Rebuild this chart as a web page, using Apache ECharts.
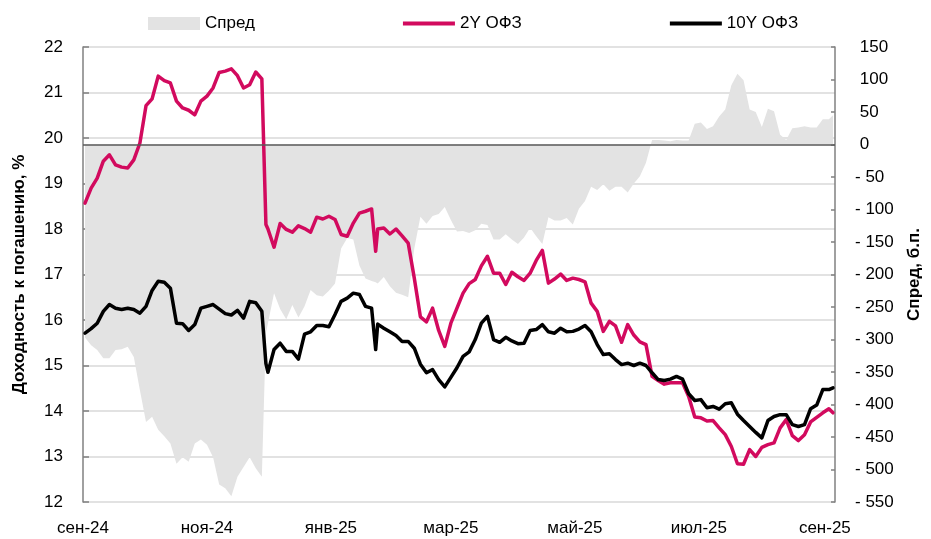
<!DOCTYPE html>
<html>
<head>
<meta charset="utf-8">
<script src="https://cdn.jsdelivr.net/npm/echarts@6/dist/echarts.min.js"></script>
<style>
html,body{margin:0;padding:0;background:#fff;}
#chart{width:931px;height:539px;}
</style>
</head>
<body>
<div id="chart"></div>
<script>
// ---- data ----
const dates = [
'2024-09-02','2024-09-05','2024-09-08','2024-09-11','2024-09-14','2024-09-17','2024-09-20','2024-09-23','2024-09-26','2024-09-29',
'2024-10-02','2024-10-05','2024-10-08','2024-10-11','2024-10-14','2024-10-17','2024-10-20','2024-10-23','2024-10-26','2024-10-29',
'2024-11-01','2024-11-04','2024-11-07','2024-11-10','2024-11-13','2024-11-16','2024-11-19','2024-11-22','2024-11-25','2024-11-28','2024-11-30',
'2024-12-01','2024-12-04','2024-12-07','2024-12-10','2024-12-13','2024-12-16','2024-12-19','2024-12-22','2024-12-25','2024-12-28','2024-12-31',
'2025-01-03','2025-01-06','2025-01-09','2025-01-12','2025-01-15','2025-01-18','2025-01-21','2025-01-23','2025-01-24','2025-01-27','2025-01-30',
'2025-02-02','2025-02-05','2025-02-08','2025-02-11','2025-02-14','2025-02-17','2025-02-20','2025-02-23','2025-02-26',
'2025-03-01','2025-03-04','2025-03-07','2025-03-10','2025-03-13','2025-03-16','2025-03-19','2025-03-22','2025-03-25','2025-03-28','2025-03-31',
'2025-04-03','2025-04-06','2025-04-09','2025-04-12','2025-04-15','2025-04-18','2025-04-21','2025-04-24','2025-04-27','2025-04-30',
'2025-05-03','2025-05-06','2025-05-09','2025-05-12','2025-05-15','2025-05-18','2025-05-21','2025-05-24','2025-05-27','2025-05-30',
'2025-06-02','2025-06-05','2025-06-08','2025-06-11','2025-06-14','2025-06-17','2025-06-20','2025-06-23','2025-06-26','2025-06-29',
'2025-07-02','2025-07-05','2025-07-08','2025-07-11','2025-07-14','2025-07-17','2025-07-20','2025-07-23','2025-07-26','2025-07-29',
'2025-08-01','2025-08-04','2025-08-07','2025-08-10','2025-08-13','2025-08-16','2025-08-19','2025-08-22','2025-08-25','2025-08-28','2025-08-31',
'2025-09-03','2025-09-05'
];
const ofz2y = [
18.57,18.90,19.12,19.49,19.63,19.41,19.36,19.34,19.52,19.89,
20.71,20.86,21.36,21.26,21.21,20.81,20.66,20.61,20.51,20.81,
20.92,21.10,21.44,21.47,21.52,21.37,21.10,21.17,21.45,21.30,18.10,
18.00,17.60,18.12,17.99,17.93,18.07,18.01,17.93,18.26,18.22,18.28,
18.21,17.88,17.84,18.13,18.35,18.39,18.44,17.51,18.00,18.02,17.89,
18.00,17.85,17.69,16.92,16.07,15.96,16.26,15.77,15.42,
15.93,16.26,16.59,16.80,16.89,17.19,17.40,17.03,17.03,16.78,17.05,
16.95,16.87,17.03,17.31,17.53,16.81,16.90,17.01,16.87,16.92,
16.89,16.84,16.37,16.19,15.75,15.97,15.87,15.51,15.90,15.67,
15.52,15.46,14.76,14.67,14.59,14.62,14.62,14.62,14.32,13.87,
13.85,13.78,13.79,13.63,13.48,13.22,12.84,12.83,13.15,13.00,
13.20,13.26,13.30,13.63,13.81,13.46,13.35,13.48,13.76,13.86,13.96,
14.05,13.96
];
const ofz10y = [
15.71,15.81,15.93,16.19,16.34,16.26,16.23,16.26,16.23,16.15,
16.30,16.65,16.85,16.83,16.70,15.93,15.92,15.77,15.90,16.26,
16.30,16.34,16.24,16.14,16.11,16.21,16.04,16.41,16.38,16.19,15.04,
14.85,15.35,15.49,15.31,15.31,15.14,15.69,15.74,15.88,15.88,15.85,
16.12,16.41,16.48,16.59,16.56,16.30,16.26,15.35,15.91,15.82,15.74,
15.66,15.53,15.53,15.38,15.03,14.84,14.91,14.69,14.53,
14.74,14.95,15.20,15.30,15.57,15.93,16.08,15.57,15.51,15.62,15.54,
15.48,15.49,15.77,15.79,15.90,15.74,15.71,15.82,15.74,15.75,
15.80,15.88,15.74,15.46,15.24,15.26,15.13,15.02,15.05,15.00,
15.05,15.00,14.84,14.69,14.67,14.70,14.76,14.70,14.38,14.23,
14.25,14.07,14.10,14.04,14.16,14.18,13.93,13.79,13.66,13.53,
13.41,13.79,13.88,13.92,13.92,13.70,13.66,13.70,14.05,14.13,14.47,
14.47,14.51
];
const spreadBp = [
-297,-309,-316,-329,-329,-316,-315,-311,-327,-378,
-427,-419,-439,-449,-460,-491,-481,-488,-460,-454,
-462,-481,-523,-529,-541,-511,-496,-481,-498,-511,-290,
-275,-229,-253,-269,-247,-266,-249,-224,-232,-234,-225,
-214,-160,-144,-146,-186,-206,-210,-212,-214,-204,-218,
-228,-231,-235,-160,-111,-122,-110,-107,-96,
-116,-134,-133,-136,-132,-122,-124,-146,-146,-138,-146,
-153,-143,-128,-141,-153,-112,-117,-117,-113,-123,
-99,-87,-65,-70,-61,-71,-65,-65,-74,-60,
-49,-28,7,7,6,5,7,6,6,32,
34,24,28,43,54,91,109,99,54,50,
27,55,51,15,7,25,26,28,26,26,39,
39,45
];
const xTickDates = ['2024-09-01','2024-11-01','2025-01-01','2025-03-01','2025-05-01','2025-07-01','2025-09-01'];
const xTickLabels = ['сен-24','ноя-24','янв-25','мар-25','май-25','июл-25','сен-25'];
const seriesNames = ['Спред','2Y ОФЗ','10Y ОФЗ'];

// ---- chart ----
const FONT = "'Liberation Sans', Arial, sans-serif";
const tickTimes = xTickDates.map(d => Date.parse(d));
const pairs = arr => dates.map((d, i) => [Date.parse(d), arr[i]]);

const chart = echarts.init(document.getElementById('chart'), null, {renderer: 'canvas'});
chart.setOption({
  animation: false,
  backgroundColor: '#ffffff',
  textStyle: {fontFamily: FONT},
  grid: {left: 83, right: 91, top: 47, bottom: 37, containLabel: false},
  legend: {
    left: 143, top: 10,
    itemWidth: 52, itemHeight: 13, itemGap: 148,
    textStyle: {fontFamily: FONT, fontSize: 17, color: '#000'},
    data: [
      {name: seriesNames[0], icon: 'rect'},
      {name: seriesNames[1], icon: 'path://M0 0H52V4H0Z'},
      {name: seriesNames[2], icon: 'path://M0 0H52V4H0Z'}
    ]
  },
  xAxis: {
    type: 'value',
    min: Date.parse('2024-09-01'),
    max: Date.parse('2025-09-06'),
    axisLine: {show: false},
    axisTick: {show: false},
    splitLine: {show: false},
    axisLabel: {
      customValues: tickTimes,
      margin: 18,
      fontFamily: FONT, fontSize: 17, color: '#000',
      formatter: function (val) {
        let best = 0, bd = Infinity;
        tickTimes.forEach((t, i) => { const d = Math.abs(t - val); if (d < bd) { bd = d; best = i; } });
        return xTickLabels[best];
      }
    }
  },
  yAxis: [
    {
      type: 'value', min: 12, max: 22, interval: 1,
      name: 'Доходность к погашению, %',
      nameLocation: 'middle', nameRotate: 90, nameGap: 55,
      nameTextStyle: {fontFamily: FONT, fontSize: 17, fontWeight: 'bold', color: '#000'},
      axisLine: {show: true, lineStyle: {color: '#808080', width: 1.5}},
      axisTick: {show: true, inside: true, length: 6, lineStyle: {color: '#808080', width: 1.5}},
      axisLabel: {margin: 20, fontFamily: FONT, fontSize: 17, color: '#000'},
      splitLine: {show: true, lineStyle: {color: '#D9D9D9', width: 1.5}}
    },
    {
      type: 'value', min: -550, max: 150, interval: 50,
      position: 'right',
      name: 'Спред, б.п.',
      nameLocation: 'middle', nameRotate: 90, nameGap: 71,
      nameTextStyle: {fontFamily: FONT, fontSize: 17, fontWeight: 'bold', color: '#000'},
      axisLine: {show: true, lineStyle: {color: '#808080', width: 1.5}},
      axisTick: {show: true, inside: true, length: 4, lineStyle: {color: '#808080', width: 1.5}},
      axisLabel: {
        margin: 20, fontFamily: FONT, fontSize: 17, color: '#000',
        formatter: v => v < 0 ? '- ' + Math.abs(v) : ' ' + v
      },
      splitLine: {show: false}
    }
  ],
  series: [
    {
      name: seriesNames[0], type: 'line', yAxisIndex: 1,
      data: pairs(spreadBp),
      symbol: 'none', showSymbol: false,
      itemStyle: {color: '#E3E3E3'},
      lineStyle: {width: 0, color: '#E3E3E3'},
      areaStyle: {color: '#E3E3E3', opacity: 1, origin: 0},
      z: 1,
      markLine: {
        silent: true, symbol: 'none', label: {show: false},
        lineStyle: {color: '#595959', width: 1.5, type: 'solid'},
        data: [{yAxis: 0}]
      }
    },
    {
      name: seriesNames[1], type: 'line', yAxisIndex: 0,
      data: pairs(ofz2y),
      symbol: 'none', showSymbol: false,
      itemStyle: {color: '#D20A5E'},
      lineStyle: {width: 3.5, color: '#D20A5E', join: 'round', cap: 'round'},
      z: 3
    },
    {
      name: seriesNames[2], type: 'line', yAxisIndex: 0,
      data: pairs(ofz10y),
      symbol: 'none', showSymbol: false,
      itemStyle: {color: '#000000'},
      lineStyle: {width: 3.5, color: '#000000', join: 'round', cap: 'round'},
      z: 4
    }
  ]
});
</script>
</body>
</html>
